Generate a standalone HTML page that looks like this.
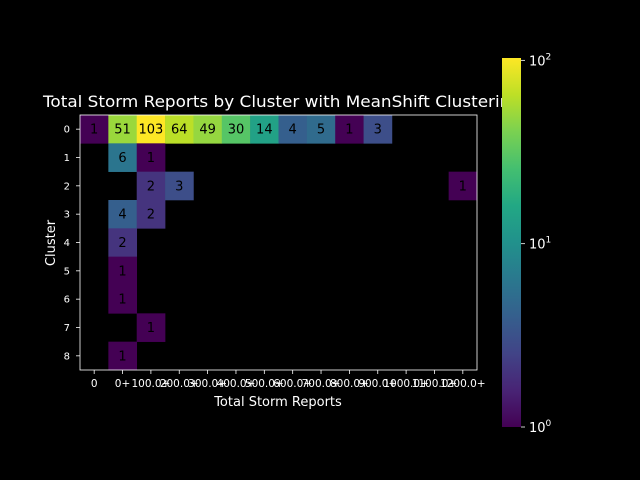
<!DOCTYPE html>
<html><head><meta charset="utf-8"><style>
html,body{margin:0;background:#000;overflow:hidden;width:640px;height:480px;}
svg{display:block;}
svg text{font-family:"DejaVu Sans","Liberation Sans",sans-serif;}
</style></head><body>
<svg id="c" width="640" height="480" xmlns="http://www.w3.org/2000/svg">
<rect width="640" height="480" fill="#000"/>
<defs><linearGradient id="vg" x1="0" y1="1" x2="0" y2="0">
<stop offset="0" stop-color="#440154"/><stop offset="0.1" stop-color="#482475"/><stop offset="0.2" stop-color="#414487"/><stop offset="0.3" stop-color="#355f8d"/><stop offset="0.4" stop-color="#2a788e"/><stop offset="0.5" stop-color="#21918c"/><stop offset="0.6" stop-color="#22a884"/><stop offset="0.7" stop-color="#44bf70"/><stop offset="0.8" stop-color="#7ad151"/><stop offset="0.9" stop-color="#bddf26"/><stop offset="1" stop-color="#fde725"/>
</linearGradient></defs>
<g id="cells"></g>
<text x="43" y="107" fill="#fff" font-size="16" textLength="478" lengthAdjust="spacingAndGlyphs">Total Storm Reports by Cluster with MeanShift Clustering</text>
<text x="278" y="406" fill="#fff" font-size="13" text-anchor="middle">Total Storm Reports</text>
<text transform="translate(55,243) rotate(-90)" fill="#fff" font-size="13" text-anchor="middle">Cluster</text>
<rect x="502" y="58" width="19" height="369" fill="url(#vg)"/>
<g id="cb"></g>
<rect x="80" y="115" width="397" height="255" fill="none" stroke="#fff" stroke-width="0.8"/>
</svg>
<script>
const categories=["0","0+","100.0+","200.0+","300.0+","400.0+","500.0+","600.0+","700.0+","800.0+","900.0+","1000.0+","1100.0+","1200.0+"];
const clusters=["0","1","2","3","4","5","6","7","8"];
const row0=[1,51,103,64,49,30,14,4,5,1,3,0,0,0];
const row1=[0,6,1,0,0,0,0,0,0,0,0,0,0,0];
const row2=[0,0,2,3,0,0,0,0,0,0,0,0,0,1];
const row3=[0,4,2,0,0,0,0,0,0,0,0,0,0,0];
const row4=[0,2,0,0,0,0,0,0,0,0,0,0,0,0];
const row5=[0,1,0,0,0,0,0,0,0,0,0,0,0,0];
const row6=[0,1,0,0,0,0,0,0,0,0,0,0,0,0];
const row7=[0,0,1,0,0,0,0,0,0,0,0,0,0,0];
const row8=[0,1,0,0,0,0,0,0,0,0,0,0,0,0];
const rows=[row0,row1,row2,row3,row4,row5,row6,row7,row8];
const cbTicks=[1,10,100];
const cbLabels=["10","10","10"];
const cbExp=["0","1","2"];
const NS="http://www.w3.org/2000/svg";
const X0=80,X1=477,Y0=115,Y1=370;
const cw=(X1-X0)/categories.length,ch=(Y1-Y0)/clusters.length;
const vmin=1,vmax=103;
const stops=["#440154","#482475","#414487","#355f8d","#2a788e","#21918c","#22a884","#44bf70","#7ad151","#bddf26","#fde725"];
function hex(h){return [1,3,5].map(i=>parseInt(h.substr(i,2),16));}
function vir(t){t=Math.max(0,Math.min(1,t));const p=t*10,i=Math.min(9,Math.floor(p)),f=p-i;const a=hex(stops[i]),b=hex(stops[i+1]);return "rgb("+a.map((v,k)=>Math.round(v+(b[k]-v)*f)).join(",")+")";}
function norm(v){return Math.log(v/vmin)/Math.log(vmax/vmin);}
function xs(i){return X0+i*cw;}function ys(j){return Y0+j*ch;}
function cbY(v){return 427-(427-58)*norm(v);}
const g=document.getElementById('cells'),svg=document.getElementById('c');
function mk(t,at,p){const e=document.createElementNS(NS,t);for(const k in at)e.setAttribute(k,at[k]);(p||svg).appendChild(e);return e;}
rows.forEach((r,j)=>r.forEach((v,i)=>{if(!v)return;
const rc=mk('rect',{x:xs(i),y:ys(j),width:cw+0.3,height:ch+0.3,fill:vir(norm(v))},g);


const t=mk('text',{x:xs(i)+cw/2,y:ys(j)+ch/2+4.5,'font-size':13,'text-anchor':'middle',fill:'#000'},g);


t.textContent=v;}));
categories.forEach((c,i)=>{const x=xs(i)+cw/2;
mk('line',{x1:x,x2:x,y1:Y1,y2:Y1+4,stroke:'#fff','stroke-width':0.8});
const t=mk('text',{x:x,y:Y1+17,'font-size':10.5,'text-anchor':'middle',fill:'#fff'});


t.textContent=c;});
clusters.forEach((c,j)=>{const y=ys(j)+ch/2;
mk('line',{x1:X0-4,x2:X0,y1:y,y2:y,stroke:'#fff','stroke-width':0.8});
const t=mk('text',{x:X0-10,y:y+3.5,'font-size':10,'text-anchor':'end',fill:'#fff'});


t.textContent=c;});
cbTicks.forEach((v,k)=>{const y=cbY(v);
mk('line',{x1:521,x2:525,y1:y,y2:y,stroke:'#fff','stroke-width':0.8});
const t=mk('text',{x:529,y:y+5,'font-size':13,fill:'#fff'});


t.textContent=cbLabels[k];
const s=mk('tspan',{dy:-6,'font-size':9},t);s.textContent=cbExp[k];});
</script>
</body></html>
